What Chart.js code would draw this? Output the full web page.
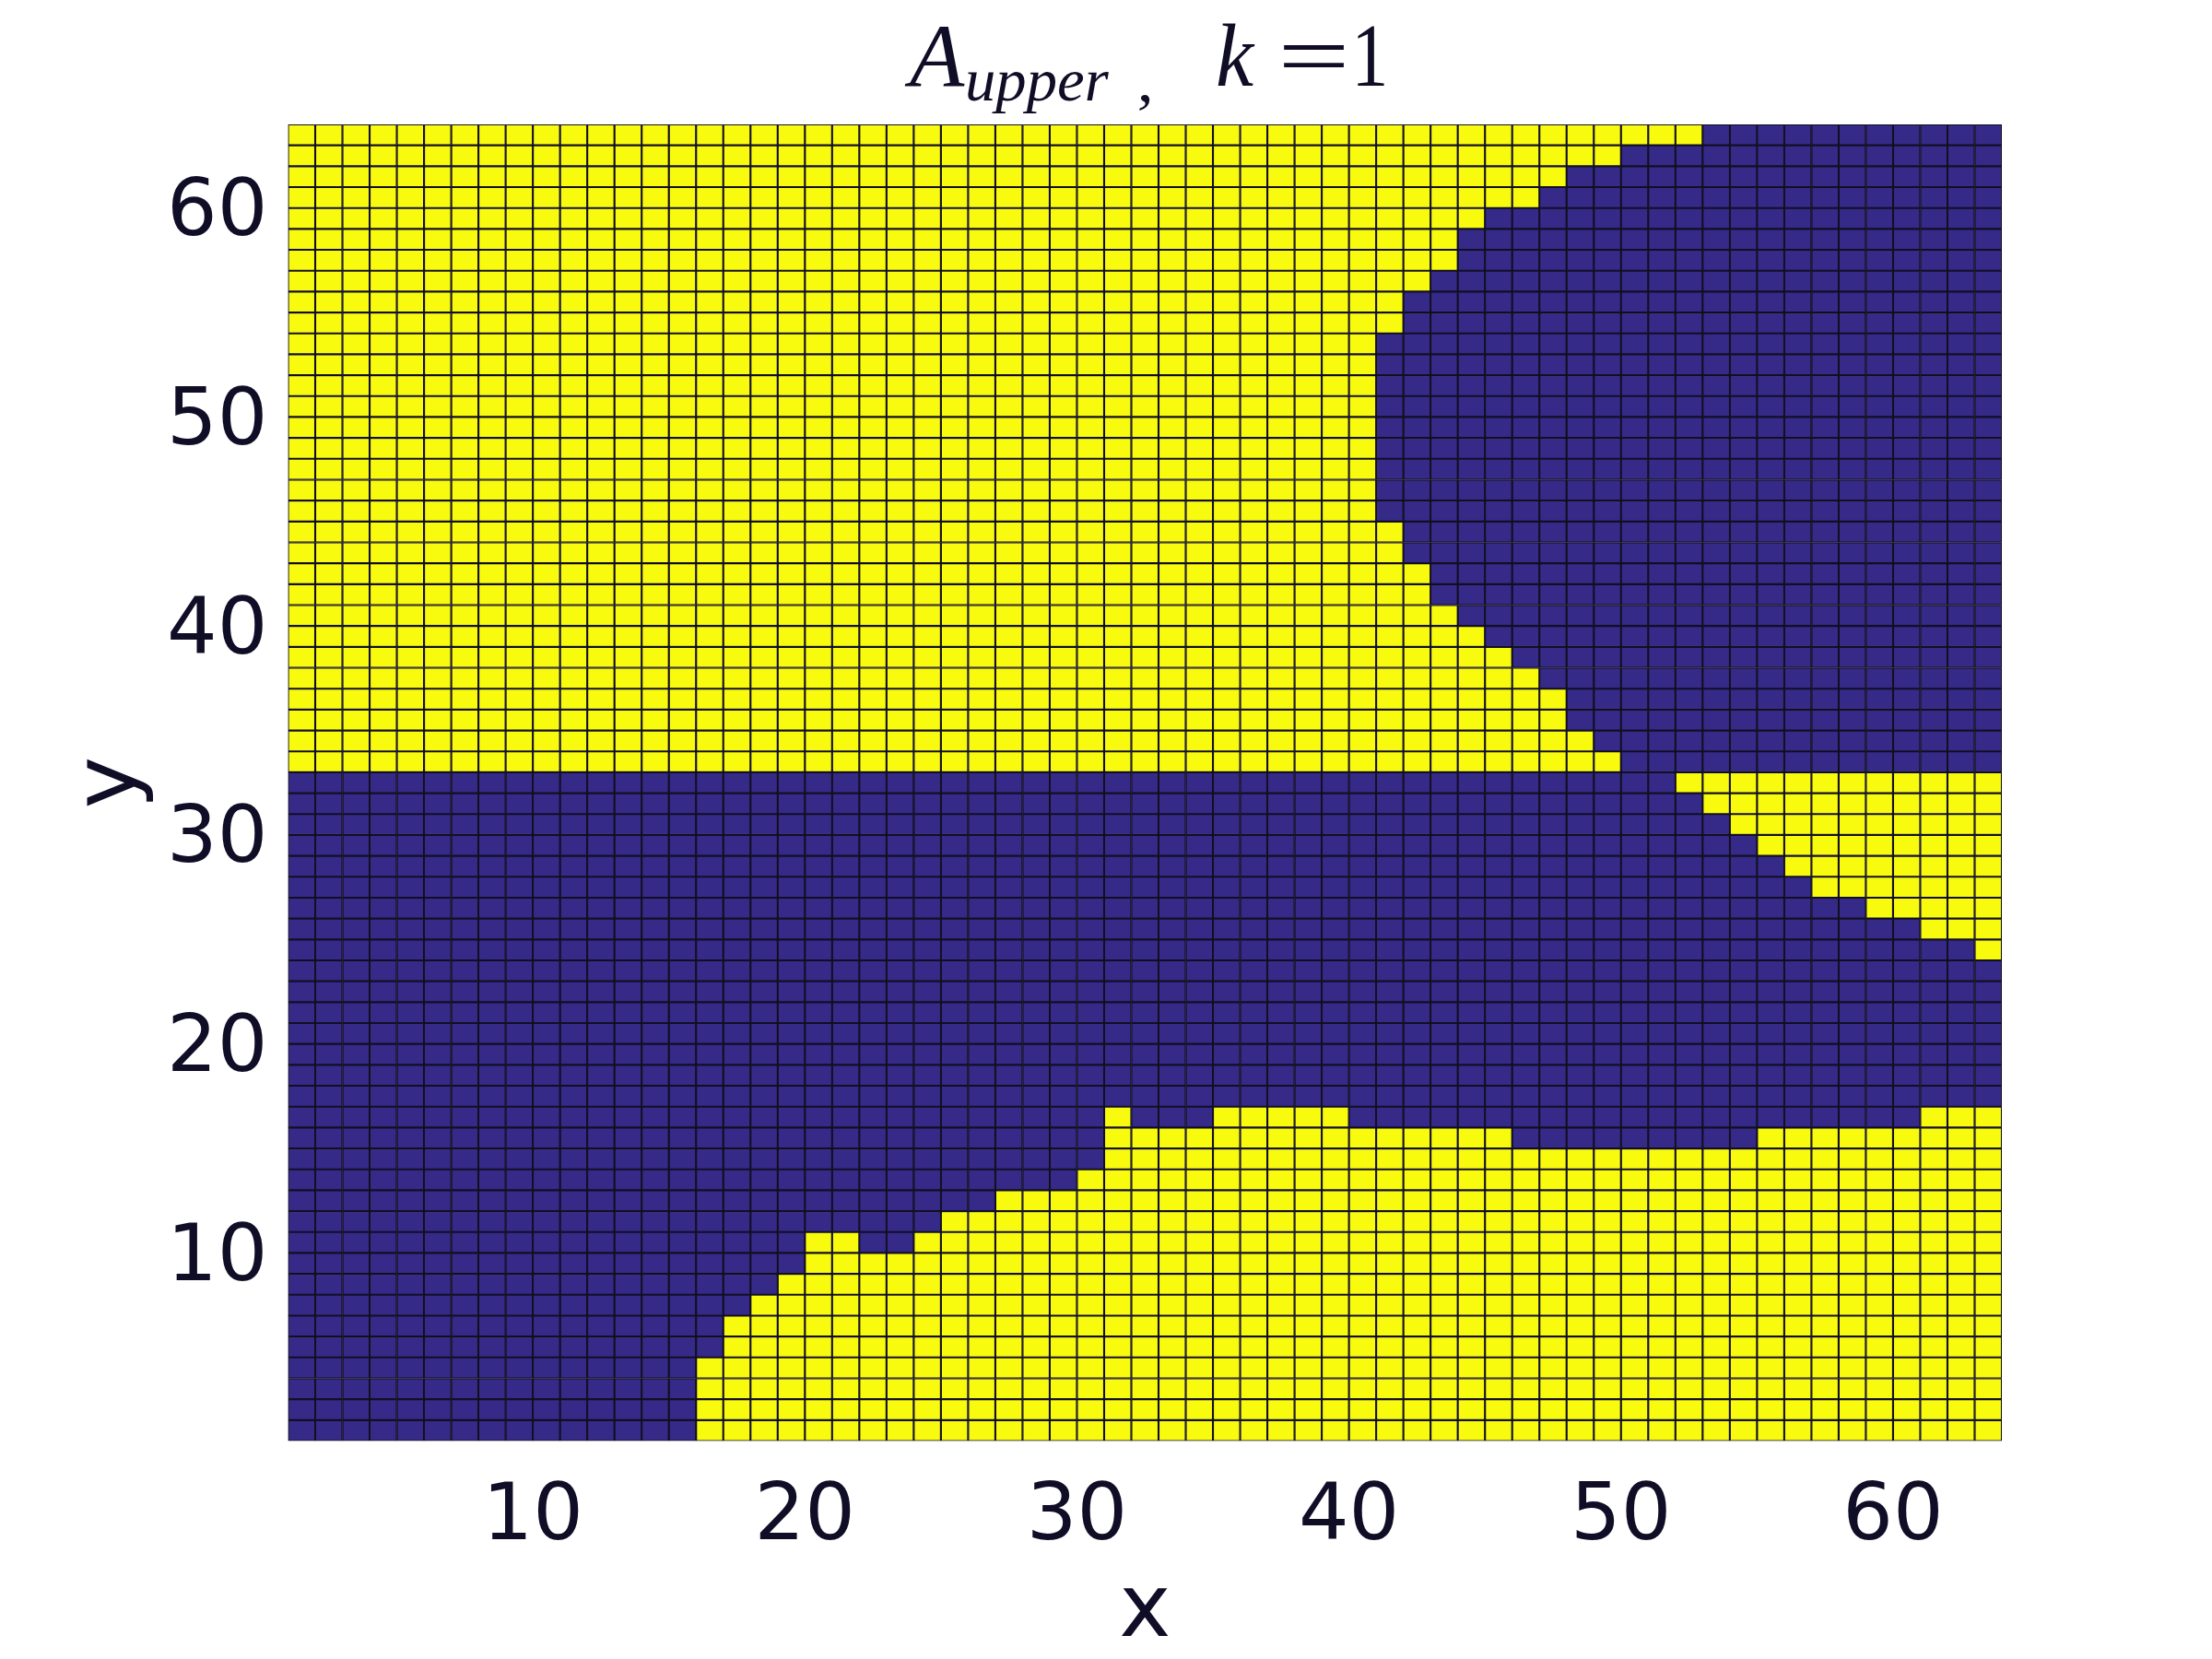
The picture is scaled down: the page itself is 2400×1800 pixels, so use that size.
<!DOCTYPE html>
<html>
<head>
<meta charset="utf-8">
<script src="https://cdn.jsdelivr.net/npm/chart.js@4.4.1/dist/chart.umd.min.js"></script>
<style>
  html, body { margin: 0; padding: 0; background: #ffffff; }
  #wrap { width: 2400px; height: 1800px; }
</style>
</head>
<body>
<div id="wrap"><canvas id="c" width="2400" height="1800"></canvas></div>
<script>
// ---------------- data ----------------
const gridMin = 1;              // pcolor grid: lines 1..64, cells 1..63
const gridMax = 64;
const xTicks = [10, 20, 30, 40, 50, 60];
const yTicks = [10, 20, 30, 40, 50, 60];

// Lower part: for each column x = 1..63, first row that is NOT yellow
// (yellow cells occupy rows 1 .. value-1, blue above up to the split row)
const lowerYellowTop = [
  1, 1, 1, 1, 1, 1, 1, 1, 1, 1, 1, 1, 1, 1, 1,
  5, 7, 8, 9, 11, 11, 10, 10, 11, 12, 12, 13, 13, 13, 14,
  17, 16, 16, 16, 17, 17, 17, 17, 17,
  16, 16, 16, 16, 16, 16,
  15, 15, 15, 15, 15, 15, 15, 15, 15,
  16, 16, 16, 16, 16, 16,
  17, 17, 17
];

// Row where the upper region starts (rows >= splitRow)
const splitRow = 33;

// Upper part: for rows 33..63, first column of the blue region (yellow to the left)
const upperRows = [33,34,35,36,37,38,39,40,41,42,43,44,45,46,47,48,49,50,51,52,53,54,55,56,57,58,59,60,61,62,63];
const upperBlueStart = [50,49,48,48,47,46,45,44,43,43,42,42,41,41,41,41,41,41,41,41,41,42,42,43,44,44,45,47,48,50,53];

// Yellow triangle in the blue band on the right: rows 24..32, first yellow column
const triRows = [24, 25, 26, 27, 28, 29, 30, 31, 32];
const triYellowStart = [63, 61, 59, 57, 56, 55, 54, 53, 52];

// ---------------- styles ----------------
const BLUE = '#352a87';
const YELLOW = '#f9fb0e';
const EDGE = '#120f24';
const TEXT = '#100d26';

// ---------------- build the cell table ----------------
function cellValue(col, row) {           // 1 = yellow, 0 = blue
  if (row >= splitRow) {
    const i = upperRows.indexOf(row);
    return col >= upperBlueStart[i] ? 0 : 1;
  }
  if (row < lowerYellowTop[col - 1]) return 1;
  const t = triRows.indexOf(row);
  if (t >= 0 && col >= triYellowStart[t]) return 1;
  return 0;
}

const blueCells = [], yellowCells = [];
for (let row = gridMin; row < gridMax; row++) {
  for (let col = gridMin; col < gridMax; col++) {
    const p = { x: col + 0.5, y: [row, row + 1] };
    (cellValue(col, row) ? yellowCells : blueCells).push(p);
  }
}

// ---------------- title plugin (math-style title with subscript) ----------------
const titlePlugin = {
  id: 'mathTitle',
  afterDraw(chart) {
    const ctx = chart.ctx;
    const pieces = [
      { t: 'A',     style: 'italic', size: 97, left: 981,  right: 1047, base: 93 },
      { t: 'upper', style: 'italic', size: 66, left: 1050, right: 1203, base: 109 },
      { t: ',',     style: 'normal', size: 66, left: 1236, right: 1248, base: 110 },
      { t: 'k',     style: 'italic', size: 97, left: 1321, right: 1362, base: 93 },
      { t: '=',     style: 'normal', size: 97, left: 1392, right: 1458, base: 93 },
      { t: '1',     style: 'normal', size: 97, left: 1473, right: 1502, base: 93 }
    ];
    ctx.save();
    ctx.fillStyle = TEXT;
    ctx.textBaseline = 'alphabetic';
    ctx.textAlign = 'left';
    for (const p of pieces) {
      ctx.font = p.style + ' ' + p.size + 'px "Liberation Serif", "DejaVu Serif", serif';
      const m = ctx.measureText(p.t);
      const inkW = m.actualBoundingBoxRight + m.actualBoundingBoxLeft;
      const sx = inkW > 0 ? (p.right - p.left) / inkW : 1;
      ctx.save();
      ctx.translate(p.left, p.base);
      ctx.scale(sx, 1);
      ctx.fillText(p.t, m.actualBoundingBoxLeft, 0);
      ctx.restore();
    }
    ctx.restore();
  }
};

// ---------------- chart ----------------
const tickFont = { family: '"DejaVu Sans", sans-serif', size: 86 };
const labelFont = { family: '"DejaVu Sans", sans-serif', size: 95, lineHeight: 1 };

new Chart(document.getElementById('c'), {
  type: 'bar',
  data: {
    datasets: [
      { label: 'A = 0', data: blueCells, backgroundColor: BLUE },
      { label: 'A = 1', data: yellowCells, backgroundColor: YELLOW }
    ]
  },
  options: {
    responsive: false,
    animation: false,
    events: [],
    layout: { padding: { top: 135, right: 228, bottom: 0, left: 0 } },
    datasets: {
      bar: {
        grouped: false,
        barPercentage: 1,
        categoryPercentage: 1,
        borderSkipped: false,
        borderWidth: 1.4,
        borderColor: EDGE
      }
    },
    plugins: {
      legend: { display: false },
      tooltip: { enabled: false },
      title: { display: false }
    },
    scales: {
      x: {
        type: 'linear',
        min: gridMin,
        max: gridMax,
        offset: false,
        grid: { display: false },
        border: { display: false },
        afterBuildTicks: s => { s.ticks = xTicks.map(v => ({ value: v })); },
        afterFit: s => { s.height = 236.5; },
        ticks: { font: tickFont, color: TEXT, padding: 25, maxRotation: 0, autoSkip: false },
        title: { display: true, text: 'x', font: labelFont, color: TEXT, padding: { top: 0, bottom: 2 } }
      },
      y: {
        type: 'linear',
        min: gridMin,
        max: gridMax,
        beginAtZero: false,
        grid: { display: false },
        border: { display: false },
        afterBuildTicks: s => { s.ticks = yTicks.map(v => ({ value: v })); },
        afterFit: s => { s.width = 312.5; },
        ticks: { font: tickFont, color: TEXT, padding: 14, labelOffset: 7, autoSkip: false },
        title: { display: true, text: 'y', font: labelFont, color: TEXT, padding: { top: 74, bottom: 0 } }
      }
    }
  },
  plugins: [titlePlugin]
});
</script>
</body>
</html>
